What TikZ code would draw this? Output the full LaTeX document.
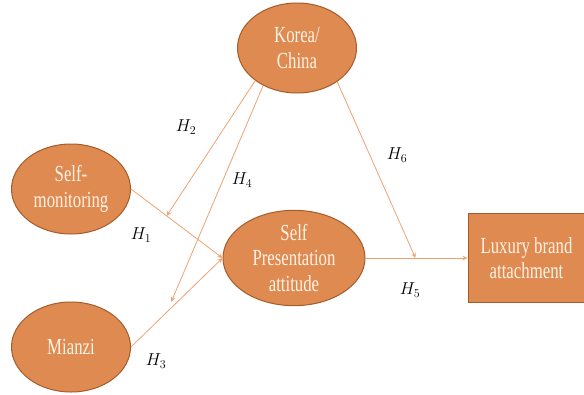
\documentclass[tikz,border=0pt]{standalone}
\usepackage{fontspec}
\setmainfont{Liberation Serif}[FakeStretch=0.73]
\usetikzlibrary{positioning,arrows.meta,calc,shapes.geometric}
\definecolor{nodeorange}{HTML}{DE8A50}
\definecolor{nodeedge}{HTML}{A55C2A}
\definecolor{linkorange}{HTML}{EDA272}
\definecolor{textcream}{HTML}{FFF3E6}
\tikzset{
    every node/.style={font=\fontsize{23}{25.5}\selectfont},
    construct/.style={ellipse,draw=nodeedge,fill=nodeorange,text=textcream,line width=1pt,minimum width=119pt,minimum height=90pt,inner sep=0pt,align=center},
    outcome/.style={rectangle,draw=nodeedge,fill=nodeorange,text=textcream,line width=1pt,minimum width=117pt,minimum height=89pt,inner sep=0pt,align=center},
    link/.style={draw=linkorange,line width=0.8pt,-{Stealth[length=5pt,width=4.5pt]}},
    hyp/.style={font=\fontsize{17}{17}\selectfont}
}

\begin{document}
\begin{tikzpicture}[x=1pt,y=-1pt]
    \useasboundingbox (0,0) rectangle (584,394);
    \node[construct] (korea) at (297,48) {Korea/\\China};
    \node[construct] (selfmon) at (71,189) {Self-\\monitoring};
    \node[construct] (mianzi) at (71,347) {Mianzi};
    \node[construct,minimum width=142pt,minimum height=88pt] (spa) at (294,258) {Self\\Presentation\\attitude};
    \node[outcome,right=102pt of spa] (lux) {Luxury brand\\attachment};
    % moderation targets
    \coordinate (h2end) at ($(selfmon.east)!0.39!(spa.west)$);
    \coordinate (h4end) at ($(mianzi.east)!0.44!(spa.west)+(0,-6)$);
    \coordinate (h6end) at ($(spa.east)!0.49!(lux.west)$);
    \draw[link] (selfmon.east) -- (spa.west);
    \draw[link] (mianzi.east) -- (spa.west);
    \draw[link] (spa.east) -- (lux.west);
    \draw[link] (korea.218) -- (h2end);
    \draw[link] (korea.228) -- (h4end);
    \draw[link] (korea.320) -- (h6end);
    \node[hyp] (hone) at (141,235) {$H_1$};
    \node[hyp] (htwo) at (186,127) {$H_2$};
    \node[hyp] (hthree) at (156,361) {$H_3$};
    \node[hyp] (hfour) at (242,180) {$H_4$};
    \node[hyp] (hfive) at (410,290) {$H_5$};
    \node[hyp] (hsix) at (397,155) {$H_6$};
\end{tikzpicture}
\end{document}
